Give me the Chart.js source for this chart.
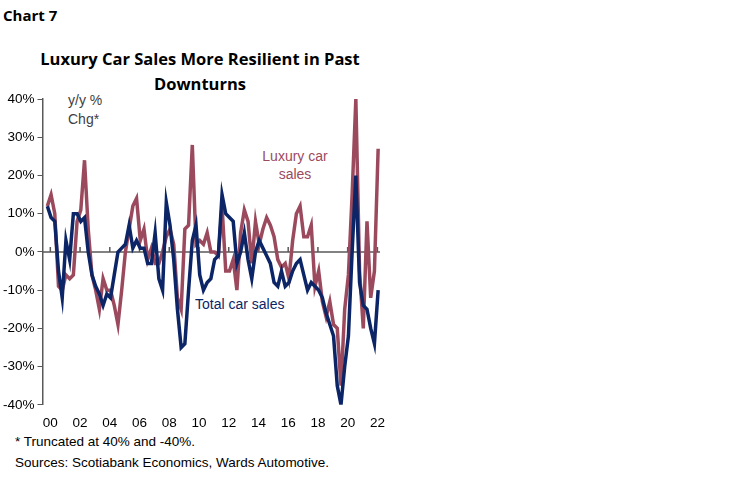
<!DOCTYPE html>
<html><head><meta charset="utf-8">
<script src="https://cdn.jsdelivr.net/npm/chart.js@4"></script>
<style>
body{margin:0;width:750px;height:483px;background:#fff;position:relative;font-family:"Liberation Sans",Arial,sans-serif;overflow:hidden}
.t{position:absolute;white-space:nowrap}
#wrap{position:absolute;left:0;top:88px;width:392px;height:345px}
</style></head><body>
<div class="t" style="left:3px;top:5px;font:bold 15px 'Open Sans';color:#000">Chart 7</div>
<div class="t" style="left:0;width:400px;top:46px;text-align:center;font:bold 16.5px 'Open Sans';line-height:25px;color:#000">Luxury Car Sales More Resilient in Past<br>Downturns</div>
<div class="t" style="left:68px;top:91px;font:14px 'Liberation Sans';line-height:19px;color:#404040">y/y %<br>Chg*</div>
<div class="t" style="left:250px;top:147px;width:90px;text-align:center;font:14px 'Liberation Sans';line-height:18px;color:#9b4a5e">Luxury car<br>sales</div>
<div class="t" style="left:195px;top:296px;font:14px 'Liberation Sans';color:#0b2566">Total car sales</div>
<div class="t" style="left:15px;top:431px;font:13.5px 'Liberation Sans';line-height:21px;color:#000">* Truncated at 40% and -40%.<br>Sources: Scotiabank Economics, Wards Automotive.</div>
<div id="wrap"><canvas id="c"></canvas></div>
<script>
const tickYears=[2000,2002,2004,2006,2008,2010,2012,2014,2016,2018,2020,2022];
const yTicks=[-40,-30,-20,-10,0,10,20,30,40];
const totalSales=[12,9,8,-5,-12,3,-2,10,10,8,9,0,-6,-9,-11,-14,-11,-12,-6,0,1,2,7,1,3,1,1,-3,-3,5,-7,-10,13,7,-2,-15,-25,-24,-10,3,7,-6,-10,-8,-7,-2,-1,15,10,9,8,-3,0,5,-2,-7,0,3,1,-1,-3,-8,-9,-5,-9,-8,-5,-3,-2,-6,-10,-8,-9,-10,-12,-16,-19,-22,-35,-40,-30,-22,0,20,-8,-14,-15,-20,-24,-10];
const luxurySales=[12,15,10,-9,-10,-6,-7,-6,8,11,24,6,-6,-10,-15,-7,-10,-10,-14,-19,-10,0,6,12,14,3,6,-2,1,-3,-3,0,4,6,2,-12,-15,6,7,28,2,3,2,5,0,0,-1,12,-5,-5,-2,-10,5,11,8,-3,8,2,6,9,7,4,-2,-4,-3,-7,3,10,12,4,4,7,-9,-5,-13,-17,-13,-19,-20,-35,-15,-6,15,40,-5,-20,8,-12,-5,27];
const idx=v=>0.8+(v-2000)*4;
const pts=a=>a.map((v,i)=>({x:i,y:v}));
const zeroLine={id:'z',beforeDatasetsDraw(ch){const {ctx,chartArea:a,scales:{x,y}}=ch;const y0=y.getPixelForValue(0);ctx.save();ctx.strokeStyle='#595959';ctx.lineWidth=1.5;ctx.beginPath();ctx.moveTo(a.left,y0);ctx.lineTo(a.right,y0);tickYears.forEach(t=>{const px=x.getPixelForValue(idx(t));ctx.moveTo(px,y0);ctx.lineTo(px,y0-5);});ctx.stroke();ctx.restore();}};
new Chart(document.getElementById('c'),{type:'line',
data:{datasets:[
{data:pts(totalSales),borderColor:'#0b2566',borderWidth:3.5,pointRadius:0,tension:0},
{data:pts(luxurySales),borderColor:'#9b4a5e',borderWidth:3.5,pointRadius:0,tension:0}]},
options:{animation:false,responsive:true,maintainAspectRatio:false,
layout:{padding:{top:8,right:12,bottom:0,left:0}},
plugins:{legend:{display:false},tooltip:{enabled:false}},
scales:{
x:{type:'linear',min:-1.3,max:89.5,border:{display:false},grid:{display:false},
afterBuildTicks(s){s.ticks=tickYears.map(t=>({value:idx(t)}));},
ticks:{autoSkip:false,maxRotation:0,color:'#000',font:{size:13.5,family:'Liberation Sans'},padding:2,callback:(v)=>{const yr=Math.round((v-0.8)/4+2000);return String(yr).slice(2);}}},
y:{min:-40,max:40,afterBuildTicks(s){s.ticks=yTicks.map(v=>({value:v}));},
border:{display:true,color:'#595959',width:1.5},
grid:{drawOnChartArea:false,drawTicks:true,tickLength:5,color:'#595959'},
ticks:{color:'#000',font:{size:13.5,family:'Liberation Sans'},padding:3,callback:v=>v+'%'}}}},
plugins:[zeroLine]});
</script></body></html>
